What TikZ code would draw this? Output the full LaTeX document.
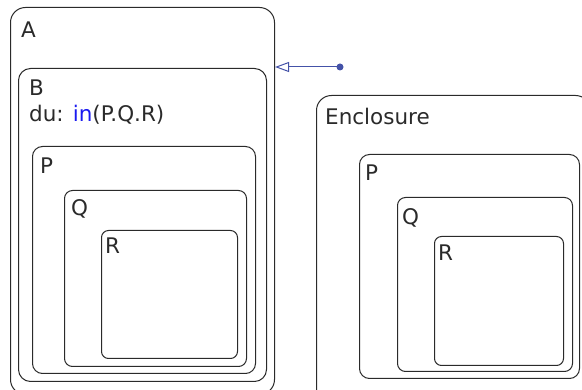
\documentclass[tikz,border=0pt]{standalone}
\usepackage{fontspec}
\setmainfont{DejaVu Sans}
\usepackage{tikz}
\usetikzlibrary{positioning,arrows.meta}
\definecolor{edgegray}{HTML}{2A2A2A}
\definecolor{keyblue}{HTML}{1A1AF0}
\definecolor{linkblue}{HTML}{4452A8}

\tikzset{
  state/.style={draw=edgegray, line width=1pt, inner sep=0pt, anchor=north west},
  lbl/.style={anchor=north west, inner sep=0pt, font=\fontsize{21.5}{26}\selectfont\color{edgegray}},
}

\begin{document}
\begin{tikzpicture}[x=1pt,y=-1pt]
  \useasboundingbox (0,0) rectangle (582,390);
  \clip (0,0) rectangle (582,390);
  % nested states, left
  \foreach \n/\x/\y/\w/\h/\r in {A/10/7/264/387/15, B/18/68/248/313/12, P/32/146/223/227/10,
      Q/64/190/182/176/8, R/101/230/136/128/7}{
    \node[state, rounded corners=\r pt, minimum width=\w pt, minimum height=\h pt] (\n) at (\x,\y) {};
  }
  % nested states, right
  \foreach \n/\x/\y/\w/\h/\r in {Enc/316/95/274/310/15, Ptwo/359/154/220/224/10,
      Qtwo/397/197/175/174/8, Rtwo/434/236/129/129/7}{
    \node[state, rounded corners=\r pt, minimum width=\w pt, minimum height=\h pt] (\n) at (\x,\y) {};
  }
  % labels
  \node[lbl, below right=15pt and 11pt of A.north west] (lA) {A};
  \node[lbl, below right=12pt and 11pt of B.north west] (lB) {B};
  \node[lbl, below=9pt of lB.south west, anchor=north west] (lDu) {du: \textcolor{keyblue}{in}(P.Q.R)};
  \node[lbl, below right=12pt and 8pt of P.north west] (lP) {P};
  \node[lbl, below right=9pt and 7pt of Q.north west] (lQ) {Q};
  \node[lbl, below right=8pt and 4pt of R.north west] (lR) {R};
  \node[lbl, below right=13pt and 9pt of Enc.north west] (lEnc) {Enclosure};
  \node[lbl, below right=11pt and 6pt of Ptwo.north west] (lPtwo) {P};
  \node[lbl, below right=11pt and 5pt of Qtwo.north west] (lQtwo) {Q};
  \node[lbl, below right=9pt and 4pt of Rtwo.north west] (lRtwo) {R};
  % default transition
  \fill[linkblue] (340,67) circle (3.5) coordinate (dot);
  \draw[linkblue, line width=1pt, -{Triangle[open, length=14pt, width=10pt]}] (dot) -- (dot -| A.east);
\end{tikzpicture}
\end{document}
